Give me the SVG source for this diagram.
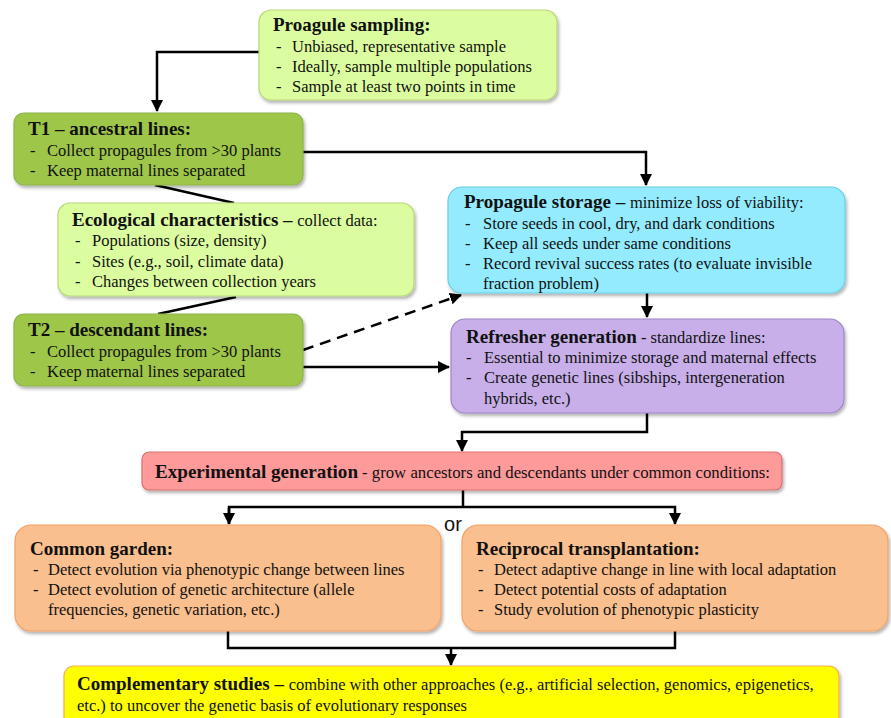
<svg xmlns="http://www.w3.org/2000/svg" width="891" height="718" viewBox="0 0 891 718">
<defs>
<filter id="sh" x="-5%" y="-10%" width="110%" height="130%">
<feDropShadow dx="1.5" dy="2.5" stdDeviation="1.8" flood-color="#000" flood-opacity="0.3"/>
</filter>
<marker id="ah" markerWidth="12" markerHeight="12" viewBox="0 0 12 12" refX="11" refY="6" orient="auto" markerUnits="userSpaceOnUse">
<path d="M0,0 L12,6 L0,12 Z" fill="#000"/>
</marker>
</defs>
<style>
text{font-family:"Liberation Serif","Times New Roman",serif;fill:#111}
.t{font-size:19px;font-weight:bold}
.b{font-size:16.5px}
.box{stroke-width:1.2;filter:url(#sh)}
.lime{fill:#dcfd9f;stroke:#b8d77a}
.olive{fill:#9ec64a;stroke:#8db34a}
.cyan{fill:#93ebfd;stroke:#6ccde6}
.purple{fill:#c8afe9;stroke:#9f84c8}
.red{fill:#fe9a9a;stroke:#dc7070}
.orange{fill:#f9bf8e;stroke:#f3a064}
.yellow{fill:#ffff00;stroke:#f2b05a}
.c{fill:none;stroke:#000;stroke-width:2.5}
.or{font-family:"Liberation Sans",Arial,sans-serif;font-size:20px}
</style>
<rect width="891" height="718" fill="#fff"/>

<g id="connectors">
<polyline class="c" points="259,52 157,52 157,111" marker-end="url(#ah)"/>
<polyline class="c" points="303,152 646,152 646,185" marker-end="url(#ah)"/>
<line class="c" x1="155" y1="185" x2="234" y2="203"/>
<line class="c" x1="236" y1="297" x2="158" y2="314"/>
<line class="c" x1="303" y1="350" x2="461" y2="295" stroke-dasharray="11,7" marker-end="url(#ah)"/>
<line class="c" x1="303" y1="367" x2="449" y2="367" marker-end="url(#ah)"/>
<line class="c" x1="647" y1="293" x2="647" y2="317" marker-end="url(#ah)"/>
<polyline class="c" points="647,413 647,432 462,432 462,451" marker-end="url(#ah)"/>
<line class="c" x1="463" y1="490" x2="463" y2="507"/>
<polyline class="c" points="229,524 229,507 675,507 675,524" marker-end="url(#ah)"/>
<line class="c" x1="229" y1="508" x2="229" y2="524" marker-end="url(#ah)"/>
<polyline class="c" points="228,631 228,648 675,648 675,631"/>
<line class="c" x1="451" y1="648" x2="451" y2="665" marker-end="url(#ah)"/>
</g>

<g id="proagule-sampling">
<rect class="box lime" x="259" y="10" width="298" height="90" rx="12"/>
<text class="t" x="273" y="31">Proagule sampling:</text>
<text class="b" x="276" y="52">-</text><text class="b" x="292" y="52">Unbiased, representative sample</text>
<text class="b" x="276" y="72">-</text><text class="b" x="292" y="72">Ideally, sample multiple populations</text>
<text class="b" x="276" y="92">-</text><text class="b" x="292" y="92">Sample at least two points in time</text>
</g>

<g id="t1">
<rect class="box olive" x="14" y="113" width="289" height="72" rx="10"/>
<text class="t" x="28" y="135">T1 – ancestral lines:</text>
<text class="b" x="30" y="156">-</text><text class="b" x="47" y="156">Collect propagules from &gt;30 plants</text>
<text class="b" x="30" y="176">-</text><text class="b" x="47" y="176">Keep maternal lines separated</text>
</g>

<g id="ecological">
<rect class="box lime" x="58" y="203" width="356" height="93" rx="12"/>
<text x="72" y="226"><tspan class="t">Ecological characteristics – </tspan><tspan class="b">collect data:</tspan></text>
<text class="b" x="75" y="246">-</text><text class="b" x="92" y="246">Populations (size, density)</text>
<text class="b" x="75" y="267">-</text><text class="b" x="92" y="267">Sites (e.g., soil, climate data)</text>
<text class="b" x="75" y="287">-</text><text class="b" x="92" y="287">Changes between collection years</text>
</g>

<g id="t2">
<rect class="box olive" x="14" y="314" width="289" height="72" rx="10"/>
<text class="t" x="28" y="336">T2 – descendant lines:</text>
<text class="b" x="30" y="357">-</text><text class="b" x="47" y="357">Collect propagules from &gt;30 plants</text>
<text class="b" x="30" y="377">-</text><text class="b" x="47" y="377">Keep maternal lines separated</text>
</g>

<g id="storage">
<rect class="box cyan" x="448" y="187" width="397" height="106" rx="14"/>
<text x="464" y="208"><tspan class="t">Propagule storage – </tspan><tspan class="b">minimize loss of viability:</tspan></text>
<text class="b" x="465" y="229">-</text><text class="b" x="483" y="229">Store seeds in cool, dry, and dark conditions</text>
<text class="b" x="465" y="249">-</text><text class="b" x="483" y="249">Keep all seeds under same conditions</text>
<text class="b" x="465" y="269">-</text><text class="b" x="483" y="269">Record revival success rates (to evaluate invisible</text>
<text class="b" x="483" y="289">fraction problem)</text>
</g>

<g id="refresher">
<rect class="box purple" x="451" y="319" width="393" height="94" rx="14"/>
<text x="466" y="343"><tspan class="t">Refresher generation</tspan><tspan class="b"> - standardize lines:</tspan></text>
<text class="b" x="466" y="363">-</text><text class="b" x="484" y="363">Essential to minimize storage and maternal effects</text>
<text class="b" x="466" y="383">-</text><text class="b" x="484" y="383">Create genetic lines (sibships, intergeneration</text>
<text class="b" x="484" y="404">hybrids, etc.)</text>
</g>

<g id="experimental">
<rect class="box red" x="142" y="452" width="640" height="38" rx="7"/>
<text x="155" y="478" font-size="19" font-weight="bold" textLength="203" lengthAdjust="spacingAndGlyphs">Experimental generation</text>
<text x="362" y="478" font-size="17" textLength="408" lengthAdjust="spacingAndGlyphs">- grow ancestors and descendants under common conditions:</text>
</g>

<text class="or" x="453" y="531" text-anchor="middle">or</text>

<g id="common-garden">
<rect class="box orange" x="15" y="525" width="426" height="106" rx="16"/>
<text class="t" x="30" y="555">Common garden:</text>
<text class="b" x="33" y="575">-</text><text class="b" x="48" y="575">Detect evolution via phenotypic change between lines</text>
<text class="b" x="33" y="595">-</text><text class="b" x="48" y="595">Detect evolution of genetic architecture (allele</text>
<text class="b" x="48" y="615">frequencies, genetic variation, etc.)</text>
</g>

<g id="reciprocal">
<rect class="box orange" x="462" y="525" width="426" height="106" rx="16"/>
<text class="t" x="476" y="555">Reciprocal transplantation:</text>
<text class="b" x="478" y="575">-</text><text class="b" x="494" y="575">Detect adaptive change in line with local adaptation</text>
<text class="b" x="478" y="595">-</text><text class="b" x="494" y="595">Detect potential costs of adaptation</text>
<text class="b" x="478" y="615">-</text><text class="b" x="494" y="615">Study evolution of phenotypic plasticity</text>
</g>

<g id="complementary">
<rect class="box yellow" x="64" y="666" width="775" height="64" rx="10"/>
<text x="77" y="690"><tspan class="t">Complementary studies – </tspan><tspan class="b">combine with other approaches (e.g., artificial selection, genomics, epigenetics,</tspan></text>
<text class="b" x="77" y="711">etc.) to uncover the genetic basis of evolutionary responses</text>
</g>
</svg>
